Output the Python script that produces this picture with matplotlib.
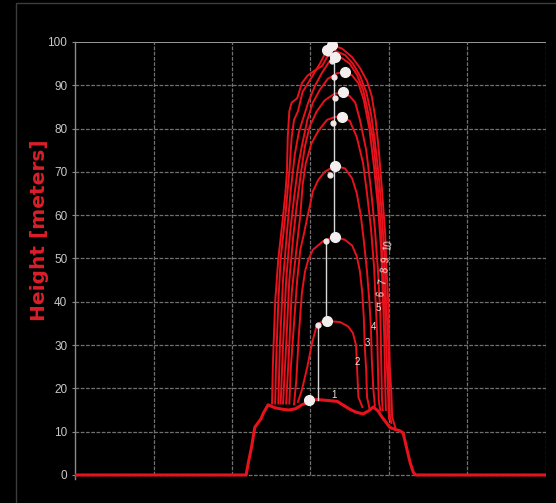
import matplotlib
matplotlib.use("Agg")
import matplotlib.pyplot as plt

# ---- data (x: distance along profile, y: height in meters) ----
c1_x = [0, 218, 221, 225, 229, 233, 237, 240, 246, 255, 264, 272, 281, 289, 294, 298, 310, 322, 334, 341, 350, 358, 367, 374, 380, 386, 391, 401, 408, 414, 418, 423, 427, 431, 434, 600]
c1_y = [0, 0, 3, 6.5, 11, 12, 13, 14.3, 16.2, 15.5, 15.2, 15, 15.3, 16.2, 16.6, 17.4, 17.4, 17.2, 17, 16.2, 15.2, 14.5, 14.1, 14.8, 15.7, 14.8, 13.4, 11, 10.5, 10.2, 9.7, 5.8, 2.8, 0.6, 0, 0]

c2_x = [284, 289, 296, 302, 308, 315, 321, 338, 348, 354, 358, 359, 361, 366]
c2_y = [16.9, 19.6, 25, 30.5, 34.6, 35.5, 35.6, 35.3, 34.3, 32.8, 30, 26, 18, 15.7]

c3_x = [279, 282, 285, 289, 293, 297, 303, 316, 331, 344, 353, 359, 363, 366, 368, 369, 371, 372, 375]
c3_y = [16.3, 22, 32, 42, 47, 49.6, 52, 54, 55, 54.3, 53, 50.5, 47, 42, 36, 30, 24, 18, 15.5]

c4_x = [273, 275, 279, 283, 287, 292, 296, 299, 303, 310, 318, 331, 344, 353, 359, 364, 368, 372, 375, 377, 378, 380, 382]
c4_y = [16.5, 25, 35, 45, 52, 56, 59.6, 62, 65.5, 68.2, 70, 71.4, 70.8, 68.5, 65, 60, 54, 47, 40, 34, 27, 20, 16]

c5_x = [269, 273, 276, 282, 287, 290, 294, 301, 310, 321, 331, 340, 350, 359, 367, 372, 377, 381, 383, 385, 386, 387, 389]
c5_y = [16.5, 30, 42, 52, 60, 67, 72, 76.5, 79.5, 82, 82.7, 82.7, 81.8, 78, 72, 65, 57, 48, 40, 32, 24, 17, 15]

c6_x = [265, 269, 273, 278, 283, 288, 293, 299, 308, 318, 330, 341, 350, 357, 363, 371, 377, 382, 386, 389, 390, 391, 392]
c6_y = [16.5, 30, 45, 55, 63, 70, 76, 80.5, 84, 86.5, 88, 88.4, 87.5, 86, 82, 75, 66, 57, 47, 37, 27, 18, 15]

c7_x = [262, 265, 269, 274, 279, 284, 289, 296, 303, 312, 322, 334, 344, 353, 361, 368, 375, 381, 386, 390, 392, 394, 395, 396]
c7_y = [16.5, 30, 45, 56, 64, 71, 76, 82, 86, 89, 91.5, 92.8, 93, 92.3, 90.5, 86.5, 80, 71, 62, 52, 42, 32, 22, 15]

c8_x = [259, 261, 265, 270, 275, 280, 285, 290, 297, 306, 315, 324, 331, 340, 350, 359, 367, 373, 380, 385, 389, 392, 395, 397, 399, 400]
c8_y = [16.5, 30, 45, 56, 66, 74, 79, 82, 86, 90, 93, 95.5, 96.5, 96.3, 95, 92.5, 89, 84, 77, 68, 59, 49, 38, 27, 18, 13]

c9_x = [255, 256, 259, 262, 268, 273, 276, 279, 284, 290, 302, 312, 321, 331, 344, 354, 363, 371, 377, 382, 387, 391, 394, 396, 399, 400, 401, 403]
c9_y = [16.5, 25, 40, 50, 60, 70, 78, 82, 84, 88.5, 92, 95, 98.2, 98, 97, 95, 92.2, 88.5, 83.5, 77, 69, 60, 51, 41, 31, 22, 14, 12]

c10_x = [251, 252, 255, 259, 264, 268, 270, 271, 273, 276, 283, 289, 296, 306, 315, 321, 327, 340, 353, 363, 372, 378, 383, 387, 391, 395, 397, 399, 400, 401, 403, 404, 408]
c10_y = [16.5, 25, 40, 50, 58, 65, 70, 78, 84, 86, 87, 90.5, 92.2, 93.5, 94.5, 96.5, 99.3, 98.5, 96.5, 94, 91, 87.5, 82, 75, 66, 56, 47, 40, 32, 25, 19, 13.4, 11]

curves_x = [c1_x, c2_x, c3_x, c4_x, c5_x, c6_x, c7_x, c8_x, c9_x, c10_x]
curves_y = [c1_y, c2_y, c3_y, c4_y, c5_y, c6_y, c7_y, c8_y, c9_y, c10_y]

peak_x = [298, 321, 331, 331, 340, 341, 344, 331, 321, 327]
peak_y = [17.4, 35.6, 55, 71.4, 82.7, 88.4, 93, 96.5, 98.2, 99.3]

dot_x = [310, 320, 325, 329, 331, 330, 328, 322]
dot_y = [34.6, 54, 69.3, 81.3, 87, 92, 95.5, 97.5]

stem_x = [310, 320, 330]
stem_y0 = [17.4, 35.6, 55]
stem_y1 = [34.6, 54, 96]

label_text = ["1", "2", "3", "4", "5", "6", "7", "8", "9", "10"]
label_x = [330, 359, 372, 380, 386, 390, 392, 395, 396, 399]
label_y = [18.5, 26, 30.5, 34.2, 38.6, 41.8, 44.6, 47.3, 49.8, 53]
label_rot = [0, 0, 0, 0, 0, 80, 80, 80, 80, 80]

y_ticks = [0, 10, 20, 30, 40, 50, 60, 70, 80, 90, 100]
x_grid = [0, 100, 200, 300, 400, 500, 600]

# ---- figure ----
W, H = 556, 503
fig = plt.figure(figsize=(W / 100, H / 100), dpi=100, facecolor="black")
fig.patches.append(plt.Rectangle((16 / W, -0.01), 1.0, 1 - 3 / H + 0.01, transform=fig.transFigure,
                                 fill=False, edgecolor="#3c3c3c", linewidth=1.0))

ax = fig.add_axes([75 / W, 1 - 479.3 / H, (546 - 75) / W, (479.3 - 42) / H])
ax.set_facecolor("black")
ax.set_xlim(0, 600)
ax.set_ylim(-1, 100)

for s in ["top", "right", "bottom"]:
    ax.spines[s].set_visible(False)
ax.spines["left"].set_color("#8a8a8a")
ax.spines["left"].set_linewidth(1.0)

ax.set_yticks(y_ticks)
ax.set_yticklabels([str(v) for v in y_ticks], fontfamily="Liberation Sans", fontsize=8.5, color="#c8c8c8")
ax.tick_params(axis="y", colors="#8a8a8a", length=2.5, width=0.8, pad=3, labelcolor="#c8c8c8")
ax.set_xticks([])

for yv in y_ticks:
    if yv == 100:
        ax.axhline(yv, color="#a8a8a8", lw=1.3, zorder=1)
    else:
        ax.axhline(yv, color="#707070", lw=0.9, ls=(0, (3, 1.2)), zorder=1)
for xv in x_grid[1:]:
    ax.axvline(xv, ymin=1 / 101, color="#707070", lw=0.9, ls=(0, (3, 1.2)), zorder=1)

# curves
for i, (cx, cy) in enumerate(zip(curves_x, curves_y)):
    ax.plot(cx, cy, color="#e8121c", lw=2.2 if i == 0 else 1.4, zorder=3, solid_joinstyle="round")

# white stems and markers
for sx, a, b in zip(stem_x, stem_y0, stem_y1):
    ax.plot([sx, sx], [a, b], color="#d8d8d8", lw=1.0, zorder=4)
ax.plot(dot_x, dot_y, ls="none", marker="o", ms=3.5, color="#f2e6e6", zorder=5)
ax.plot(peak_x, peak_y, ls="none", marker="o", ms=7, color="#f5eeee", zorder=6)

for t, lx, ly, r in zip(label_text, label_x, label_y, label_rot):
    ax.text(lx, ly, t, color="#f0e0e0", fontsize=7, ha="center", va="center", rotation=r,
            fontfamily="Liberation Sans", zorder=7)

fig.text(40 / W, 1 - 230 / H, "Height [meters]", rotation=90, color="#dc1f2a", fontsize=14.5,
         fontweight="bold", fontfamily="DejaVu Sans", ha="center", va="center")

fig.savefig("out.png", dpi=100, facecolor="black")
